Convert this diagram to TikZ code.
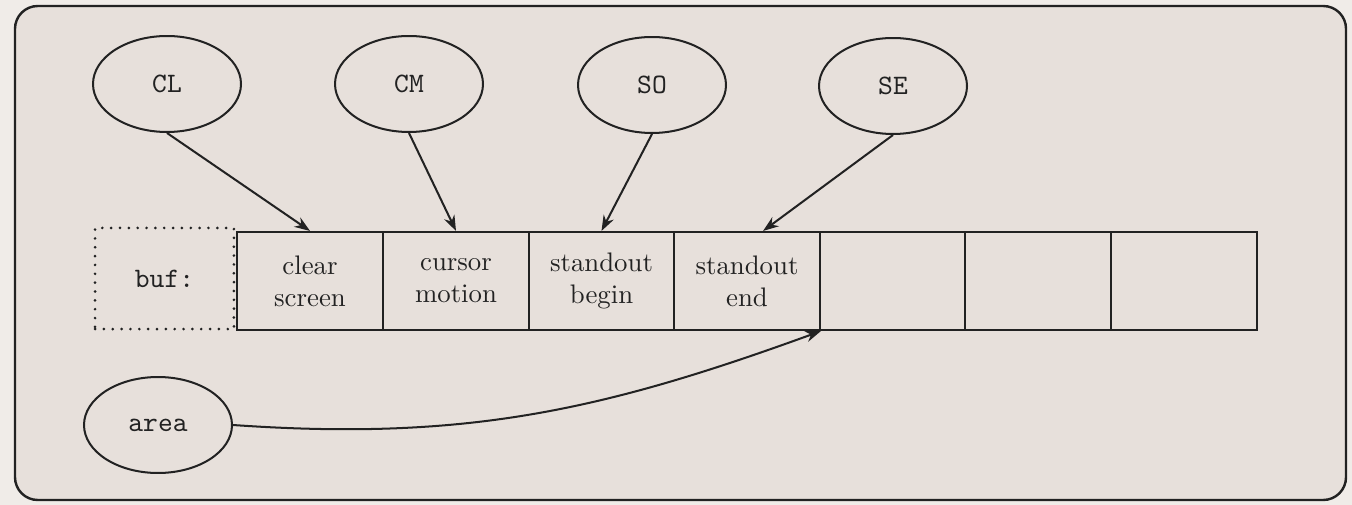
\documentclass[tikz,border=0pt]{standalone}
\usetikzlibrary{shapes.geometric,arrows.meta}
\definecolor{paper}{HTML}{F0ECE8}
\definecolor{panel}{HTML}{E7E0DB}
\definecolor{ink}{HTML}{222222}
\begin{document}
\begin{tikzpicture}[x=0.373pt,y=-0.373pt,
  every node/.style={font=\fontsize{10}{12}\selectfont, text=ink},
  oval/.style={ellipse, draw=ink, line width=0.75pt, minimum width=55.2pt,
    minimum height=35.8pt, inner sep=0pt, font=\ttfamily\fontsize{10.5}{12}\selectfont},
  cell/.style={rectangle, draw=ink, line width=0.75pt, minimum width=54.4pt,
    minimum height=36.6pt, inner sep=0pt, align=center},
  dotbox/.style={rectangle, draw=ink, line width=1.1pt, line cap=round,
    dash pattern=on 0pt off 3.3pt, minimum width=51.8pt, minimum height=37.7pt,
    inner sep=0pt, font=\ttfamily\fontsize{10.5}{12}\selectfont},
  link/.style={draw=ink, line width=0.75pt, -{Stealth[length=5.8pt,width=4.2pt]}}]
  % page and rounded panel
  \fill[paper] (0,0) rectangle (1352,505);
  \useasboundingbox (0,0) rectangle (1352,505);
  \draw[fill=panel, draw=ink, line width=0.9pt, rounded corners=8.5pt]
    (15,6) rectangle (1346,500);

  % capability strings
  \node[oval] (cl) at (167,84) {CL};
  \node[oval] (cm) at (409,84) {CM};
  \node[oval] (so) at (652,85) {SO};
  \node[oval] (se) at (893,86) {SE};
  \node[oval] (area) at (158,425) {area};

  % the buffer
  \node[dotbox] (buf) at (164.5,278.5) {buf:};
  \node[cell] (c1) at (310,281) {clear\\screen};
  \node[cell] (c2) at (456,281) {cursor\\motion};
  \node[cell] (c3) at (601.5,281) {standout\\begin};
  \node[cell] (c4) at (747,281) {standout\\end};
  \node[cell] (c5) at (892.5,281) {};
  \node[cell] (c6) at (1038,281) {};
  \node[cell] (c7) at (1184,281) {};

  % pointers into the buffer
  \draw[link] (cl.south) -- (c1.north);
  \draw[link] (cm.south) -- (c2.north);
  \draw[link] (so.south) -- (c3.north);
  \draw[link] (se.south) -- ([xshift=6]c4.north);
  \draw[link] (area.east) to[out=-4, in=200] (c4.south east);
\end{tikzpicture}
\end{document}
